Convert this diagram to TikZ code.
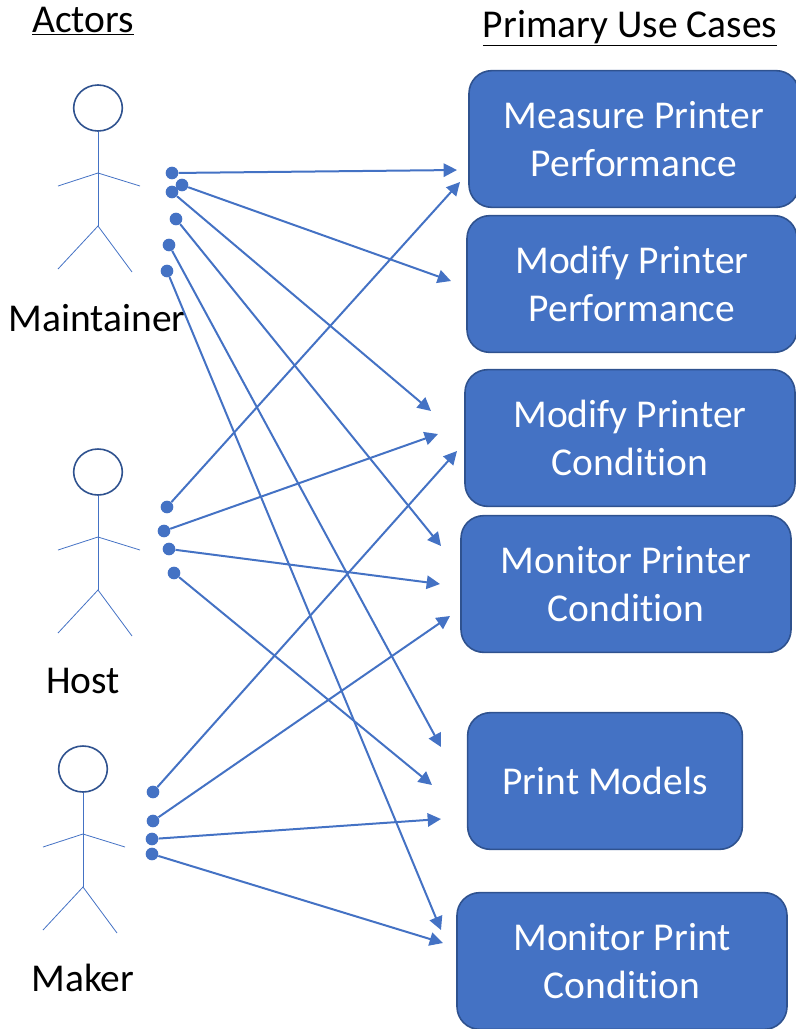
\documentclass[tikz,border=0pt]{standalone}
\usepackage{fontspec}
\setmainfont[Ligatures=NoCommon]{Carlito}
\usetikzlibrary{arrows.meta,shapes.geometric}
\definecolor{boxblue}{RGB}{68,114,196}
\definecolor{boxedge}{RGB}{47,82,143}
\tikzset{
  usecase/.style={draw=boxedge, line width=1.2pt, fill=boxblue, rounded corners=17pt, text=white, align=center, font=\fontsize{29.6}{35.5}\selectfont, inner sep=0pt, minimum height=102.5pt},
  label/.style={font=\fontsize{29.6}{36}\selectfont, inner sep=0pt},
  limb/.style={draw=boxblue, line width=0.6pt},
  dot/.style={circle, fill=boxblue, inner sep=0pt, minimum size=9.5pt},
  link/.style={draw=boxblue, line width=1.5pt, -{Triangle[length=10pt,width=10pt]}},
}
\newcommand{\actor}[3]{%
  \node[ellipse, draw=boxedge, line width=1.2pt, fill=white, minimum width=36.5pt, minimum height=34.5pt, inner sep=0pt] (#3head) at (#1,#2) {};
  \coordinate (#3neck) at (#1,#2+65);
  \coordinate (#3hip) at (#1,#2+118);
  \coordinate (#3la) at (#1-40,#2+78);
  \coordinate (#3ra) at (#1+42,#2+78);
  \coordinate (#3ll) at (#1-40,#2+161);
  \coordinate (#3rl) at (#1+34,#2+164);
  \draw[limb] (#3head) -- (#3hip);
  \draw[limb] (#3la) -- (#3neck) -- (#3ra);
  \draw[limb] (#3ll) -- (#3hip) -- (#3rl);
}
\begin{document}
\begin{tikzpicture}[x=0.75pt,y=-0.75pt]
\useasboundingbox (0,0) rectangle (796,1029);

% headings
\node[label] (actors) at (83,21) {\underline{Actors}};
\node[label] (cases) at (630,28) {\underline{Primary Use Cases}};

% actors
\actor{98}{108}{maintainer}
\actor{98}{472}{host}
\actor{83}{769}{maker}
\node[label] (maintainername) at (97,318) {Maintainer};
\node[label] (hostname) at (83,681) {Host};
\node[label] (makername) at (83,978) {Maker};

% use cases
\node[usecase, minimum width=247.5pt] (measure) at (634,139) {Measure Printer\\Performance};
\node[usecase, minimum width=247.5pt] (modperf) at (632,284) {Modify Printer\\Performance};
\node[usecase, minimum width=247.5pt] (modcond) at (630,438) {Modify Printer\\Condition};
\node[usecase, minimum width=247.5pt] (moncond) at (626,584) {Monitor Printer\\Condition};
\node[usecase, minimum width=206pt] (models) at (605,781) {Print Models};
\node[usecase, minimum width=247.5pt] (monprint) at (622,961) {Monitor Print\\Condition};

% dots
\node[dot] (ma) at (172,173) {};
\node[dot] (mb) at (182,185) {};
\node[dot] (mc) at (172,192) {};
\node[dot] (md) at (176,219) {};
\node[dot] (me) at (169,245) {};
\node[dot] (mf) at (167,271) {};
\node[dot] (ha) at (167,507) {};
\node[dot] (hb) at (164,531) {};
\node[dot] (hc) at (169,549) {};
\node[dot] (hd) at (174,573) {};
\node[dot] (ka) at (153,792) {};
\node[dot] (kb) at (153,821) {};
\node[dot] (kc) at (152,839) {};
\node[dot] (kd) at (152,854) {};

% arrow ends
\coordinate (ta) at (457,170);
\coordinate (tb) at (451,281);
\coordinate (tc) at (431,411);
\coordinate (td) at (441,546);
\coordinate (te) at (441,747);
\coordinate (tf) at (441,930);
\coordinate (tg) at (460,182);
\coordinate (th) at (438,434);
\coordinate (ti) at (440,584);
\coordinate (tj) at (432,785);
\coordinate (tk) at (457,451);
\coordinate (tl) at (450,616);
\coordinate (tm) at (441,819);
\coordinate (tn) at (443,943);

\draw[link] (ma) -- (ta);
\draw[link] (mb) -- (tb);
\draw[link] (mc) -- (tc);
\draw[link] (md) -- (td);
\draw[link] (me) -- (te);
\draw[link] (mf) -- (tf);
\draw[link] (ha) -- (tg);
\draw[link] (hb) -- (th);
\draw[link] (hc) -- (ti);
\draw[link] (hd) -- (tj);
\draw[link] (ka) -- (tk);
\draw[link] (kb) -- (tl);
\draw[link] (kc) -- (tm);
\draw[link] (kd) -- (tn);

\end{tikzpicture}
\end{document}
